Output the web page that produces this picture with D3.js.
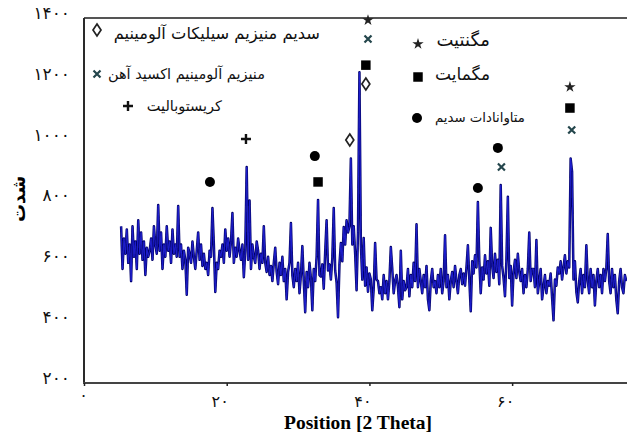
<!DOCTYPE html>
<html>
<head>
<meta charset="utf-8">
<script src="https://cdn.jsdelivr.net/npm/d3@7.9.0/dist/d3.min.js"></script>
<style>
  html, body { margin: 0; padding: 0; background: #fff; }
  svg { display: block; }
  .fa { font-family: "DejaVu Sans", sans-serif; }
</style>
</head>
<body>
<svg id="chart" width="627" height="439"></svg>
<script>
// XRD pattern: intensity sampled every 0.2 degree from 5.2 to 76.0 (2 theta)
const thetaStart = 5.2;
const thetaStep = 0.2;
const intensity = [
  715, 575, 675, 625, 705, 595, 655, 535, 715, 615, 665, 575, 735, 625, 695, 605, 665, 555, 645, 615,
  635, 675, 605, 715, 655, 625, 785, 635, 695, 575, 655, 615, 715, 635, 665, 595, 705, 625, 655, 615,
  782, 615, 655, 575, 635, 605, 490, 645, 625, 595, 665, 615, 575, 635, 695, 605, 655, 585, 625, 575,
  595, 555, 635, 615, 775, 655, 499, 595, 575, 635, 615, 655, 595, 705, 635, 675, 615, 665, 759, 595,
  645, 615, 675, 635, 605, 655, 548, 635, 910, 605, 800, 575, 655, 615, 595, 665, 635, 575, 625, 595,
  715, 595, 565, 615, 555, 585, 535, 595, 645, 565, 525, 595, 555, 615, 535, 575, 475, 565, 595, 726,
  555, 515, 575, 535, 595, 495, 555, 650, 535, 433, 565, 515, 595, 545, 439, 575, 535, 615, 802, 555,
  550, 590, 510, 630, 735, 570, 590, 540, 610, 775, 570, 530, 416, 590, 660, 600, 713, 655, 735, 695,
  715, 938, 655, 715, 625, 505, 695, 1222, 655, 540, 677, 520, 580, 500, 560, 540, 439, 510, 660, 540,
  535, 495, 515, 475, 555, 495, 535, 475, 535, 647, 575, 495, 535, 555, 515, 449, 635, 475, 535, 505,
  515, 575, 485, 555, 515, 595, 535, 722, 515, 575, 535, 495, 555, 515, 585, 475, 439, 535, 575, 515,
  535, 495, 555, 515, 575, 495, 535, 686, 515, 555, 475, 535, 565, 515, 585, 535, 495, 555, 575, 525,
  560, 520, 580, 653, 540, 436, 600, 560, 620, 580, 795, 600, 495, 580, 540, 620, 560, 600, 520, 710,
  585, 545, 625, 565, 605, 525, 851, 585, 545, 485, 605, 812, 545, 585, 455, 565, 605, 545, 625, 565,
  535, 575, 495, 555, 515, 575, 695, 535, 575, 575, 515, 670, 495, 535, 575, 475, 515, 555, 495, 535,
  520, 560, 480, 406, 540, 520, 580, 560, 600, 540, 580, 620, 560, 600, 580, 938, 895, 540, 600, 500,
  465, 535, 575, 495, 555, 515, 653, 535, 495, 575, 515, 555, 455, 535, 575, 515, 555, 495, 575, 535,
  575, 690, 535, 495, 575, 515, 555, 475, 429, 535, 575, 515, 495, 555, 535
];

// phase markers drawn above the peaks
const markerTheta = [17.65, 22.7, 32.35, 32.8, 37.25, 39.5, 39.5, 39.8, 39.8, 55.2, 58.0, 58.5, 68.1, 68.1, 68.35];
const markerLevel = [861, 1002, 946, 861, 999, 1183, 1245, 1331, 1393, 841, 973, 910, 1173, 1104, 1032];
const markerKind = ['circle', 'plus', 'circle', 'square', 'diamond', 'diamond', 'square', 'cross', 'star',
  'circle', 'circle', 'cross', 'star', 'square', 'cross'];

const xTicks = [0, 20, 40, 60];
const yTicks = [200, 400, 600, 800, 1000, 1200, 1400];

const legendNames = ['سدیم منیزیم سیلیکات آلومینیم', 'منیزیم آلومینیم اکسید آهن', 'کریستوبالیت',
  'مگنتیت', 'مگمایت', 'متاوانادات سدیم'];
const legendKinds = ['diamond', 'cross', 'plus', 'star', 'square', 'circle'];

const toFa = (n) => String(n).replace(/\d/g, (c) => '۰۱۲۳۴۵۶۷۸۹'[c]);

const svg = d3.select('#chart');
const plotL = 84, plotR = 627, plotT = 18, plotB = 383;

const x = d3.scaleLinear().domain([0, 76]).range([plotL, 626.3]);
const y = d3.scaleLinear().domain([200, 1400]).range([plotB, plotT]);

// slight softening like the scanned original
const defs = svg.append('defs');
defs.append('filter').attr('id', 'soft')
  .append('feGaussianBlur').attr('stdDeviation', 0.3);

// frame (no right side)
const frame = svg.append('g').attr('stroke', '#2a2a2a').attr('stroke-width', 2).attr('fill', 'none');
frame.append('line').attr('x1', plotL).attr('x2', plotR).attr('y1', plotT).attr('y2', plotT).attr('stroke', '#555');
frame.append('line').attr('x1', plotL).attr('x2', plotL).attr('y1', plotT).attr('y2', plotB);
frame.append('line').attr('x1', plotL - 1).attr('x2', plotR).attr('y1', plotB).attr('y2', plotB).attr('stroke', '#444');

// axes
const xAxis = svg.append('g')
  .attr('transform', `translate(0,${plotB})`)
  .call(d3.axisBottom(x).tickValues(xTicks).tickSize(3).tickFormat(toFa));
xAxis.select('.domain').remove();
xAxis.selectAll('line').attr('stroke', '#222').attr('stroke-width', 1.5);
xAxis.selectAll('text')
  .attr('class', 'fa')
  .attr('font-size', 16)
  .attr('fill', '#111')
  .attr('dy', null)
  .attr('y', (d) => d === 0 ? 18 : 24)
  .attr('x', (d) => d === 0 ? -1 : -7);

const yAxis = svg.append('g')
  .attr('transform', `translate(${plotL},0)`)
  .call(d3.axisLeft(y).tickValues(yTicks).tickSize(0).tickPadding(14).tickFormat(toFa));
yAxis.select('.domain').remove();
yAxis.selectAll('text')
  .attr('class', 'fa')
  .attr('font-size', 17)
  .attr('fill', '#111')
  .attr('y', -5);

svg.append('text')
  .attr('x', 358).attr('y', 429)
  .attr('text-anchor', 'middle')
  .attr('font-family', '"Liberation Serif", "Times New Roman", serif')
  .attr('font-weight', 'bold')
  .attr('font-size', 19.5)
  .text('Position [2 Theta]');

svg.append('text')
  .attr('class', 'fa')
  .attr('transform', 'translate(25,199) rotate(-90)')
  .attr('text-anchor', 'middle')
  .attr('font-weight', 'bold')
  .attr('font-size', 18)
  .text('شدت');

// pattern
const pts = intensity.map((v, i) => [thetaStart + i * thetaStep, v]);
const line = d3.line().x((d) => x(d[0])).y((d) => y(d[1]));
const trace = svg.append('g').attr('filter', 'url(#soft)');
trace.append('path').datum(pts).attr('d', line)
  .attr('fill', 'none').attr('stroke', '#05056c').attr('stroke-width', 2.5).attr('stroke-linejoin', 'round');
trace.append('path').datum(pts).attr('d', line)
  .attr('fill', 'none').attr('stroke', '#2020d0').attr('stroke-width', 1).attr('stroke-linejoin', 'round');

function drawMarker(g, kind) {
  if (kind === 'circle') g.append('circle').attr('r', 5).attr('fill', '#000');
  else if (kind === 'square') g.append('path').attr('d', d3.symbol(d3.symbolSquare, 90)()).attr('fill', '#000');
  else if (kind === 'star') g.append('path').attr('d', d3.symbol(d3.symbolStar, 40)()).attr('fill', '#222');
  else if (kind === 'diamond') g.append('path').attr('d', 'M0,-6L4,0L0,6L-4,0Z')
    .attr('fill', '#fff').attr('stroke', '#222').attr('stroke-width', 1.7);
  else if (kind === 'plus') g.append('path').attr('d', 'M-5,0H5M0,-5V5')
    .attr('stroke', '#111').attr('stroke-width', 2.4);
  else if (kind === 'cross') g.append('path').attr('d', 'M-3.5,-3.5L3.5,3.5M-3.5,3.5L3.5,-3.5')
    .attr('stroke', '#24464c').attr('stroke-width', 2.2);
}

markerKind.forEach((k, i) => {
  const g = svg.append('g').attr('transform', `translate(${x(markerTheta[i])},${y(markerLevel[i])})`);
  drawMarker(g, k);
});

// legend
const legendSym = [[97, 30], [97, 74], [128, 106], [418, 44], [418, 77], [417, 118]];
const legendText = [[320, 39, 16.3], [265, 79, 14.5], [222, 111, 14.5], [490, 46, 18], [490, 80, 17], [525, 122, 13.3]];
legendNames.forEach((name, i) => {
  const g = svg.append('g').attr('transform', `translate(${legendSym[i][0]},${legendSym[i][1]})`);
  drawMarker(g, legendKinds[i]);
  svg.append('text')
    .attr('class', 'fa')
    .attr('x', legendText[i][0]).attr('y', legendText[i][1])
    .attr('text-anchor', 'end')
    .attr('font-size', legendText[i][2])
    .attr('fill', '#111')
    .text(name);
});
</script>
</body>
</html>
